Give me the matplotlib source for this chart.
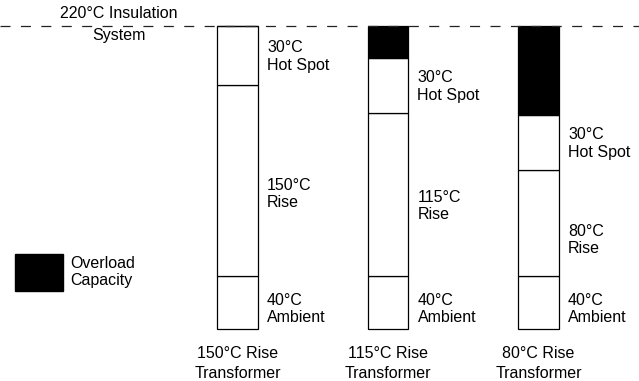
import matplotlib.pyplot as plt
from matplotlib.patches import Rectangle

plt.rcParams['font.family'] = ['Liberation Sans', 'DejaVu Sans']
plt.rcParams['lines.scale_dashes'] = False

# schematic segment heights (drawing units, insulation limit = 220)
transformers = ["150°C Rise\nTransformer", "115°C Rise\nTransformer", "80°C Rise\nTransformer"]
ambient_h = [38.5, 38.5, 38.5]
rise_h = [138.7, 118.4, 77.0]
hotspot_h = [42.8, 40.0, 40.0]
overload_h = [0.0, 23.2, 64.6]

ambient_lbl = ["40°C\nAmbient", "40°C\nAmbient", "40°C\nAmbient"]
rise_lbl = ["150°C\nRise", "115°C\nRise", "80°C\nRise"]
hotspot_lbl = ["30°C\nHot Spot", "30°C\nHot Spot", "30°C\nHot Spot"]
rise_frac = [0.43, 0.43, 0.34]

insulation = 220
fs = 11.5

fig = plt.figure(figsize=(6.39, 3.81), dpi=100)
ax = fig.add_axes([0, 0, 1, 1])
ax.set_xlim(-1.578, 2.668)
ax.set_ylim(-37.76, 238.9)
ax.axis('off')

x = [0, 1, 2]
w = 0.272
lw = 0.9

b = [0, 0, 0]
ax.bar(x, ambient_h, w, bottom=b, color='white', edgecolor='black', linewidth=lw)
b2 = [b[i] + ambient_h[i] for i in range(3)]
ax.bar(x, rise_h, w, bottom=b2, color='white', edgecolor='black', linewidth=lw)
b3 = [b2[i] + rise_h[i] for i in range(3)]
ax.bar(x, hotspot_h, w, bottom=b3, color='white', edgecolor='black', linewidth=lw)
b4 = [b3[i] + hotspot_h[i] for i in range(3)]
ax.bar(x, overload_h, w, bottom=b4, color='black', edgecolor='black', linewidth=lw)

for i in range(3):
    tx = x[i] + w / 2 + 0.06
    ax.text(tx, ambient_h[i] * 0.38, ambient_lbl[i], fontsize=fs, va='center', ha='left')
    ax.text(tx, b2[i] + rise_h[i] * rise_frac[i], rise_lbl[i], fontsize=fs, va='center', ha='left')
    ax.text(tx, b3[i] + hotspot_h[i] * 0.48, hotspot_lbl[i], fontsize=fs, va='center', ha='left')
    ax.text(x[i], -25, transformers[i], fontsize=fs, va='center', ha='center', linespacing=1.4)

# insulation limit
ax.axhline(insulation, color='#222222', linewidth=0.9, dashes=(7.2, 7.5), dash_capstyle='butt')
ax.text(-0.79, insulation + 1, "220°C Insulation\nSystem", fontsize=fs, va='center', ha='center', linespacing=1.55)

# legend
ax.add_patch(Rectangle((0.0235, 0.236), 0.0751, 0.0971, transform=ax.transAxes, color='black'))
ax.text(0.1095, 0.286, "Overload\nCapacity", transform=ax.transAxes, fontsize=fs, va='center', ha='left')

fig.savefig('out.png', dpi=100)
